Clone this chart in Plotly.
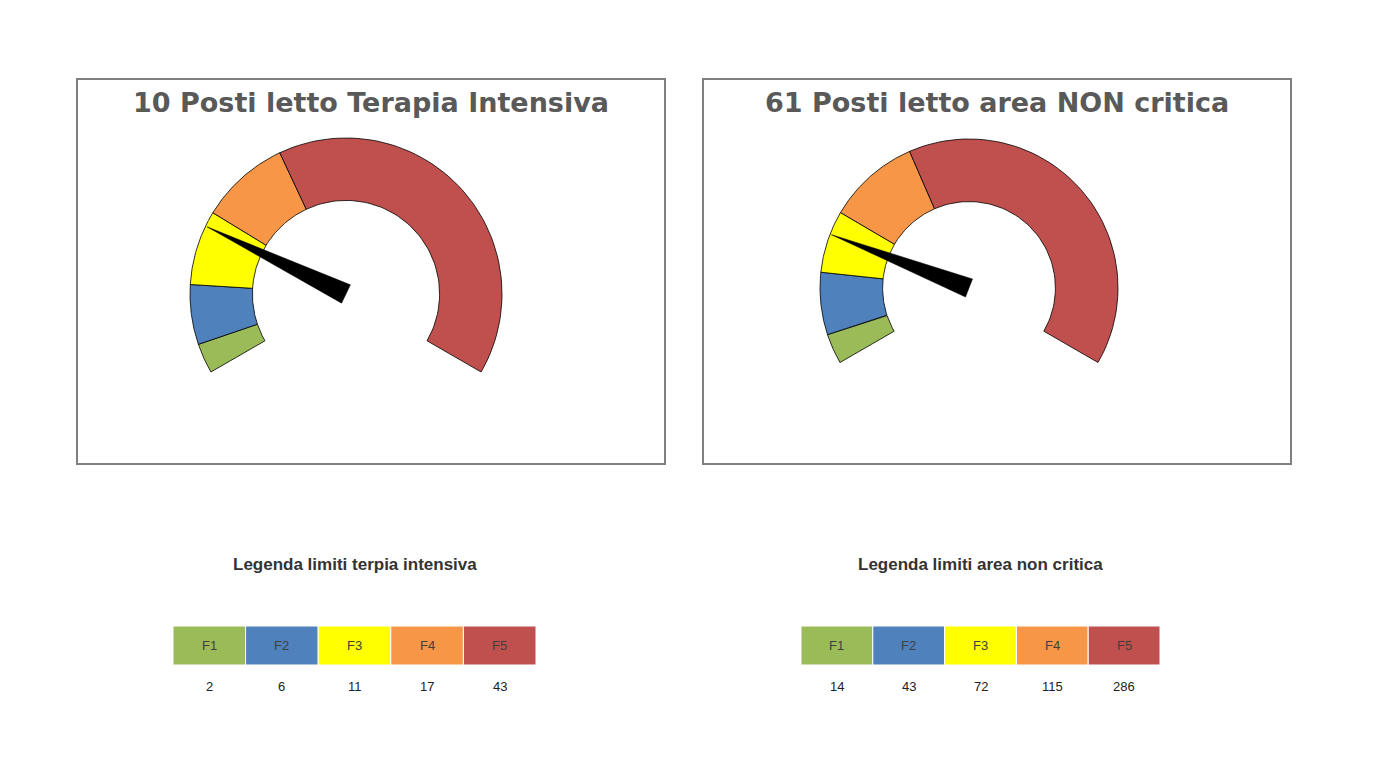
import numpy as np
import plotly.graph_objects as go

titles = ["10 Posti letto Terapia Intensiva", "61 Posti letto area NON critica"]
values = [10, 61]
limits_ti = [2, 6, 11, 17, 43]
limits_nc = [14, 43, 72, 115, 286]
labels = ["F1", "F2", "F3", "F4", "F5"]
colors = ["#9BBB59", "#4F81BD", "#FFFF00", "#F79646", "#C0504D"]
legend_titles = ["Legenda limiti terpia intensiva", "Legenda limiti area non critica"]

OFF = 8
W, H = 1381 - 2 * OFF, 777 - 2 * OFF
def px(x): return (x - OFF) / W
def py(y): return 1 - (y - OFF) / H

limits_all = [limits_ti, limits_nc]
boxes = [(77, 665), (703, 1291)]
box_y = (79, 464)
centers = [(346, 294, 156, 0.6), (969, 288, 149, 0.58)]
legend_x = [(173, 536), (801, 1160)]

fig = go.Figure()
shapes, annotations = [], []

def ang(v, vmax):
    return np.deg2rad(210 - v / vmax * 240)

for i in range(2):
    lim = limits_all[i]
    vmax = lim[-1]
    cx, cy, R, hole = centers[i]
    xa = "x" if i == 0 else "x2"
    ya = "y" if i == 0 else "y2"
    prev = 0
    for lo_v, c in zip(lim, colors):
        t = np.linspace(ang(prev, vmax), ang(lo_v, vmax), 60)
        xs = np.concatenate([np.cos(t), hole * np.cos(t[::-1]), [np.cos(t[0])]])
        ys = np.concatenate([np.sin(t), hole * np.sin(t[::-1]), [np.sin(t[0])]])
        fig.add_trace(go.Scatter(x=xs, y=ys, fill="toself", fillcolor=c, mode="lines",
                                 line=dict(color="black", width=0.8), xaxis=xa, yaxis=ya,
                                 hoverinfo="skip", showlegend=False))
        prev = lo_v
    a = ang(values[i], vmax)
    tip = 0.99
    hw = 0.065
    nx = [tip * np.cos(a), hw * np.cos(a + np.pi / 2), hw * np.cos(a - np.pi / 2), tip * np.cos(a)]
    ny = [tip * np.sin(a), hw * np.sin(a + np.pi / 2), hw * np.sin(a - np.pi / 2), tip * np.sin(a)]
    fig.add_trace(go.Scatter(x=nx, y=ny, fill="toself", fillcolor="black", mode="lines",
                             line=dict(color="black", width=0.5), xaxis=xa, yaxis=ya,
                             hoverinfo="skip", showlegend=False))
    bx0, bx1 = boxes[i]
    ax = dict(domain=[px(bx0), px(bx1)], range=[(bx0 - cx) / R, (bx1 - cx) / R],
              visible=False, fixedrange=True)
    ay = dict(domain=[py(box_y[1]), py(box_y[0])],
              range=[-(box_y[1] - cy) / R, (cy - box_y[0]) / R], visible=False, fixedrange=True)
    if i == 0:
        fig.update_layout(xaxis=ax, yaxis=ay)
    else:
        ax["anchor"] = "y2"; ay["anchor"] = "x2"
        fig.update_layout(xaxis2=ax, yaxis2=ay)
    shapes.append(dict(type="rect", xref="paper", yref="paper", x0=px(bx0), x1=px(bx1),
                       y0=py(box_y[1]), y1=py(box_y[0]),
                       line=dict(color="#808080", width=2)))
    annotations.append(dict(text="<b>" + titles[i] + "</b>", x=px((bx0 + bx1) / 2), y=py(103),
                            xref="paper", yref="paper", showarrow=False,
                            font=dict(family="Tahoma, DejaVu Sans", size=27, color="#595959"),
                            xanchor="center", yanchor="middle"))
    lx0, lx1 = legend_x[i]
    annotations.append(dict(text="<b>" + legend_titles[i] + "</b>", x=px((lx0 + lx1) / 2),
                            y=py(564), xref="paper", yref="paper", showarrow=False,
                            xanchor="center", yanchor="middle",
                            font=dict(family="Liberation Sans, Arial", size=17, color="#333333")))
    cw = (lx1 - lx0) / 5
    for k in range(5):
        x0 = lx0 + k * cw
        shapes.append(dict(type="rect", xref="paper", yref="paper", x0=px(x0), x1=px(x0 + cw),
                           y0=py(665), y1=py(626), fillcolor=colors[k],
                           line=dict(color="white", width=1)))
        annotations.append(dict(text=labels[k], x=px(x0 + cw / 2), y=py(645),
                                xref="paper", yref="paper", showarrow=False,
                                xanchor="center", yanchor="middle",
                                font=dict(family="Liberation Sans, Arial", size=13, color="#404040")))
        annotations.append(dict(text=str(lim[k]), x=px(x0 + cw / 2), y=py(686),
                                xref="paper", yref="paper", showarrow=False,
                                xanchor="center", yanchor="middle",
                                font=dict(family="Liberation Sans, Arial", size=13, color="#222222")))

fig.update_layout(width=W, height=H, margin=dict(l=0, r=0, t=0, b=0),
                  paper_bgcolor="white", plot_bgcolor="white",
                  shapes=shapes, annotations=annotations)
fig.write_html("out.html")
